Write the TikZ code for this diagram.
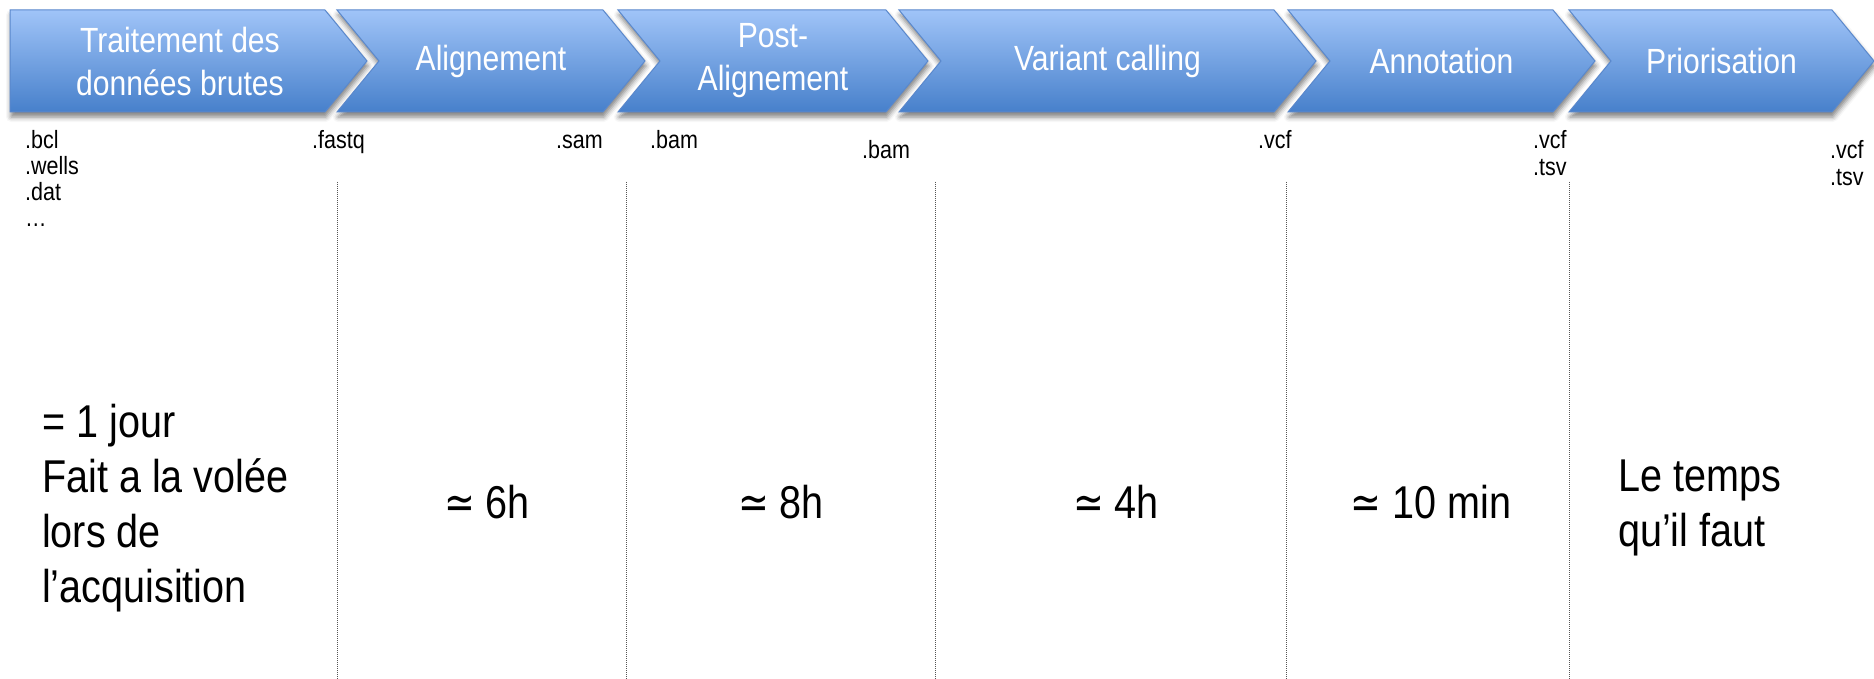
\documentclass[tikz,border=0pt]{standalone}
\usepackage{fontspec}
\setmainfont[FakeStretch=0.86]{Liberation Sans}
\newfontfamily\symfont[FakeStretch=0.8]{DejaVu Sans}
\usetikzlibrary{shadows.blur}
\definecolor{StepTop}{HTML}{A0C4F8}
\definecolor{StepBottom}{HTML}{4780CB}
\definecolor{StepEdge}{HTML}{5A88CC}
\definecolor{SplitGray}{HTML}{555555}

\tikzset{
  stepshape/.style={draw=StepEdge,line width=1pt,top color=StepTop,bottom color=StepBottom,
    blur shadow={shadow xshift=1pt,shadow yshift=-5pt,shadow blur radius=5pt,shadow opacity=50}},
  steplabel/.style={text=white,align=center,inner sep=0pt,font=\fontsize{35}{43}\selectfont},
  extlabel/.style={anchor=base west,align=left,inner sep=0pt,font=\fontsize{25}{27}\selectfont},
  timelabel/.style={align=left,inner sep=0pt,font=\fontsize{46}{55}\selectfont},
  splitline/.style={SplitGray,line width=1pt,dash pattern=on 1pt off 1pt},
}
\newcommand{\approxto}{{\symfont ≃}}

\begin{document}
\begin{tikzpicture}[x=1pt,y=-1pt]
  \useasboundingbox (0,0) rectangle (1874,679);
  % pipeline steps, tip depth 42
  \draw[stepshape] (10,10) -- (325,10) -- (367,61) -- (325,112) -- (10,112) -- cycle;
  \node[steplabel] (raw) at (180,61) {Traitement des\\données brutes};
  \foreach \a/\b/\name/\txt in {337/603/align/Alignement, 618/886/post/{Post-\\Alignement},
      899/1274/calling/Variant calling, 1288/1553/annot/Annotation, 1569/1832/prio/Priorisation}{
    \draw[stepshape] (\a,10) -- (\b,10) -- (\b+42,61) -- (\b,112) -- (\a,112) -- (\a+42,61) -- cycle;
    \node[steplabel] (\name) at ({(\a+\b+42)/2},61) {\txt};
  }

  % file formats (base = last line)
  \node[extlabel,font=\fontsize{25}{26}\selectfont] (bcl) at (25,227) {.bcl\\.wells\\.dat\\…};
  \node[extlabel] (fastq) at (312,149) {.fastq};
  \node[extlabel] (sam) at (556,149) {.sam};
  \node[extlabel] (bamin) at (650,149) {.bam};
  \node[extlabel] (bamout) at (862,159) {.bam};
  \node[extlabel] (vcfin) at (1258,149) {.vcf};
  \node[extlabel] (vcfannot) at (1533,176) {.vcf\\.tsv};
  \node[extlabel] (vcfprio) at (1830,186) {.vcf\\.tsv};

  % column separators
  \foreach \x in {337,626,935,1286,1569}
    \draw[splitline] (\x,182) -- (\x,679);

  % durations
  \node[timelabel,anchor=base west] (traw) at (42,602) {= 1 jour\\Fait a la volée\\lors de\\l’acquisition};
  \node[timelabel,anchor=base] (talign) at (487,518) {\approxto{} 6h};
  \node[timelabel,anchor=base] (tpost) at (781,518) {\approxto{} 8h};
  \node[timelabel,anchor=base] (tcall) at (1116,518) {\approxto{} 4h};
  \node[timelabel,anchor=base] (tannot) at (1431,518) {\approxto{} 10 min};
  \node[timelabel,anchor=base west] (tprio) at (1618,546) {Le temps\\qu’il faut};
\end{tikzpicture}
\end{document}
